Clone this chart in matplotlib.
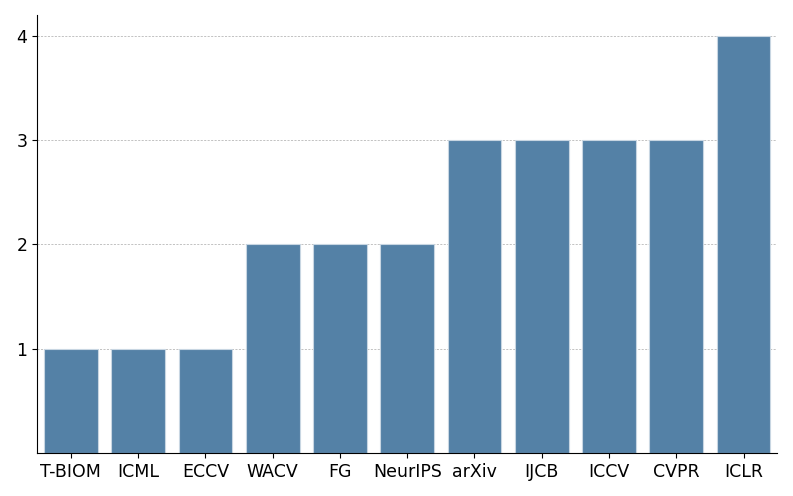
import matplotlib
matplotlib.use("Agg")
import matplotlib.pyplot as plt
import seaborn as sns

VENUES = ["T-BIOM", "ICML", "ECCV", "WACV", "FG", "NeurIPS",
          "arXiv", "IJCB", "ICCV", "CVPR", "ICLR"]
COUNTS = [1, 1, 1, 2, 2, 2, 3, 3, 3, 3, 4]

fig, ax = plt.subplots(figsize=(7.93, 4.96), dpi=100)
fig.subplots_adjust(left=0.047, right=0.98, top=0.97, bottom=0.087)

sns.barplot(x=VENUES, y=COUNTS, color="steelblue", ax=ax,
            edgecolor="#c8d6e2", linewidth=0.8, zorder=2)

ax.set_ylim(0, 4.2)
ax.set_xlim(-0.5, 10.5)
ax.set_yticks([1, 2, 3, 4])
ax.grid(axis="y", linestyle=(0, (3, 2)), color="#aaaaaa", linewidth=0.5, zorder=0)
ax.set_axisbelow(True)
ax.tick_params(labelsize=12.5)
ax.spines["top"].set_visible(False)
ax.spines["right"].set_visible(False)
ax.set_xlabel("")
ax.set_ylabel("")

fig.savefig("out.png", dpi=100)
